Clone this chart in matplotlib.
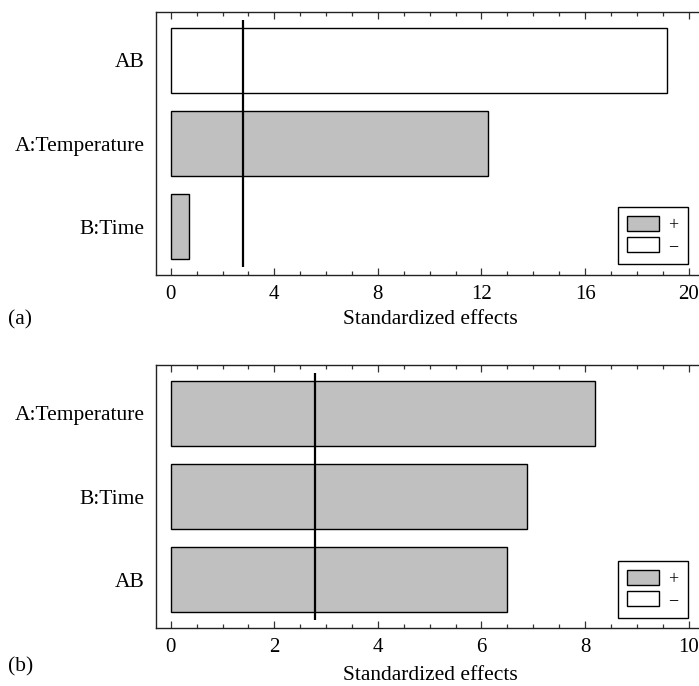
import matplotlib
matplotlib.use("Agg")
import matplotlib.pyplot as plt
from matplotlib.patches import Patch
from matplotlib.ticker import MultipleLocator

plt.rcParams['font.family'] = ['Liberation Serif', 'DejaVu Serif']

# Panel (a)
cats_a = ["B:Time", "A:Temperature", "AB"]
vals_a = [0.69, 12.26, 19.17]
signs_a = ["+", "+", "-"]
# Panel (b)
cats_b = ["AB", "B:Time", "A:Temperature"]
vals_b = [6.50, 6.88, 8.20]
signs_b = ["+", "+", "+"]
t_crit = 2.79

GRAY = "#c0c0c0"
W, H = 699, 686
fig = plt.figure(figsize=(W / 100, H / 100), dpi=100)
FS = 15.5
TFS = 15


def panel(top_px, bot_px, cats, vals, signs, xlim, major, minor,
          letter, letter_y_px, label_y_px, leg_y):
    left_px = 155.7
    rect = [left_px / W, 1 - bot_px / H, 1 - left_px / W, (bot_px - top_px) / H]
    ax = fig.add_axes(rect)
    colors = [GRAY if s == "+" else "white" for s in signs]
    ax.barh(range(len(cats)), vals, height=0.78, color=colors,
            edgecolor="black", linewidth=1.0, zorder=2)
    ax.vlines(t_crit, -0.48, len(cats) - 0.52, color="black", linewidth=1.6, zorder=3)
    ax.set_xlim(*xlim)
    ax.set_ylim(-0.58, 2.58)
    ax.set_yticks(range(len(cats)))
    ax.set_yticklabels(cats, fontsize=FS)
    ax.tick_params(axis="y", length=0, pad=8)
    ax.xaxis.set_major_locator(MultipleLocator(major))
    ax.xaxis.set_minor_locator(MultipleLocator(minor))
    ax.tick_params(axis="x", which="both", direction="in", top=True, bottom=True,
                   labelsize=TFS, color="#333333", width=0.9)
    ax.tick_params(axis="x", which="major", length=5, pad=7)
    ax.tick_params(axis="x", which="minor", length=3)
    ax.spines["right"].set_visible(False)
    for s in ["left", "top", "bottom"]:
        ax.spines[s].set_color("#222222")
        ax.spines[s].set_linewidth(1.0)
    lab = ax.set_xlabel("Standardized effects", fontsize=FS)
    lab.set_va("center")
    ax_h = bot_px - top_px
    ax.xaxis.set_label_coords((430 - left_px) / (W - left_px),
                              -(label_y_px - bot_px) / ax_h)
    handles = [Patch(facecolor=GRAY, edgecolor="black", linewidth=1.0, label="+"),
               Patch(facecolor="white", edgecolor="black", linewidth=1.0, label="\u2212")]
    leg = ax.legend(handles=handles, loc="lower right", bbox_to_anchor=(0.979, leg_y),
                    borderaxespad=0, fancybox=False, fontsize=13, handlelength=1.78,
                    handleheight=0.83, handletextpad=0.5, labelspacing=0.2,
                    borderpad=0.5, framealpha=1)
    leg.get_frame().set_edgecolor("black")
    leg.get_frame().set_linewidth(1.0)
    fig.text(8 / W, 1 - letter_y_px / H, letter, fontsize=FS, va="center", ha="left")
    return ax


panel(12, 275, cats_a, vals_a, signs_a, (-0.58, 20.4), 4, 1,
      "(a)", 320, 320, 0.0425)
panel(365, 628.3, cats_b, vals_b, signs_b, (-0.29, 10.2), 2, 0.5,
      "(b)", 667, 675, 0.04)

fig.savefig("out.png", dpi=100)
